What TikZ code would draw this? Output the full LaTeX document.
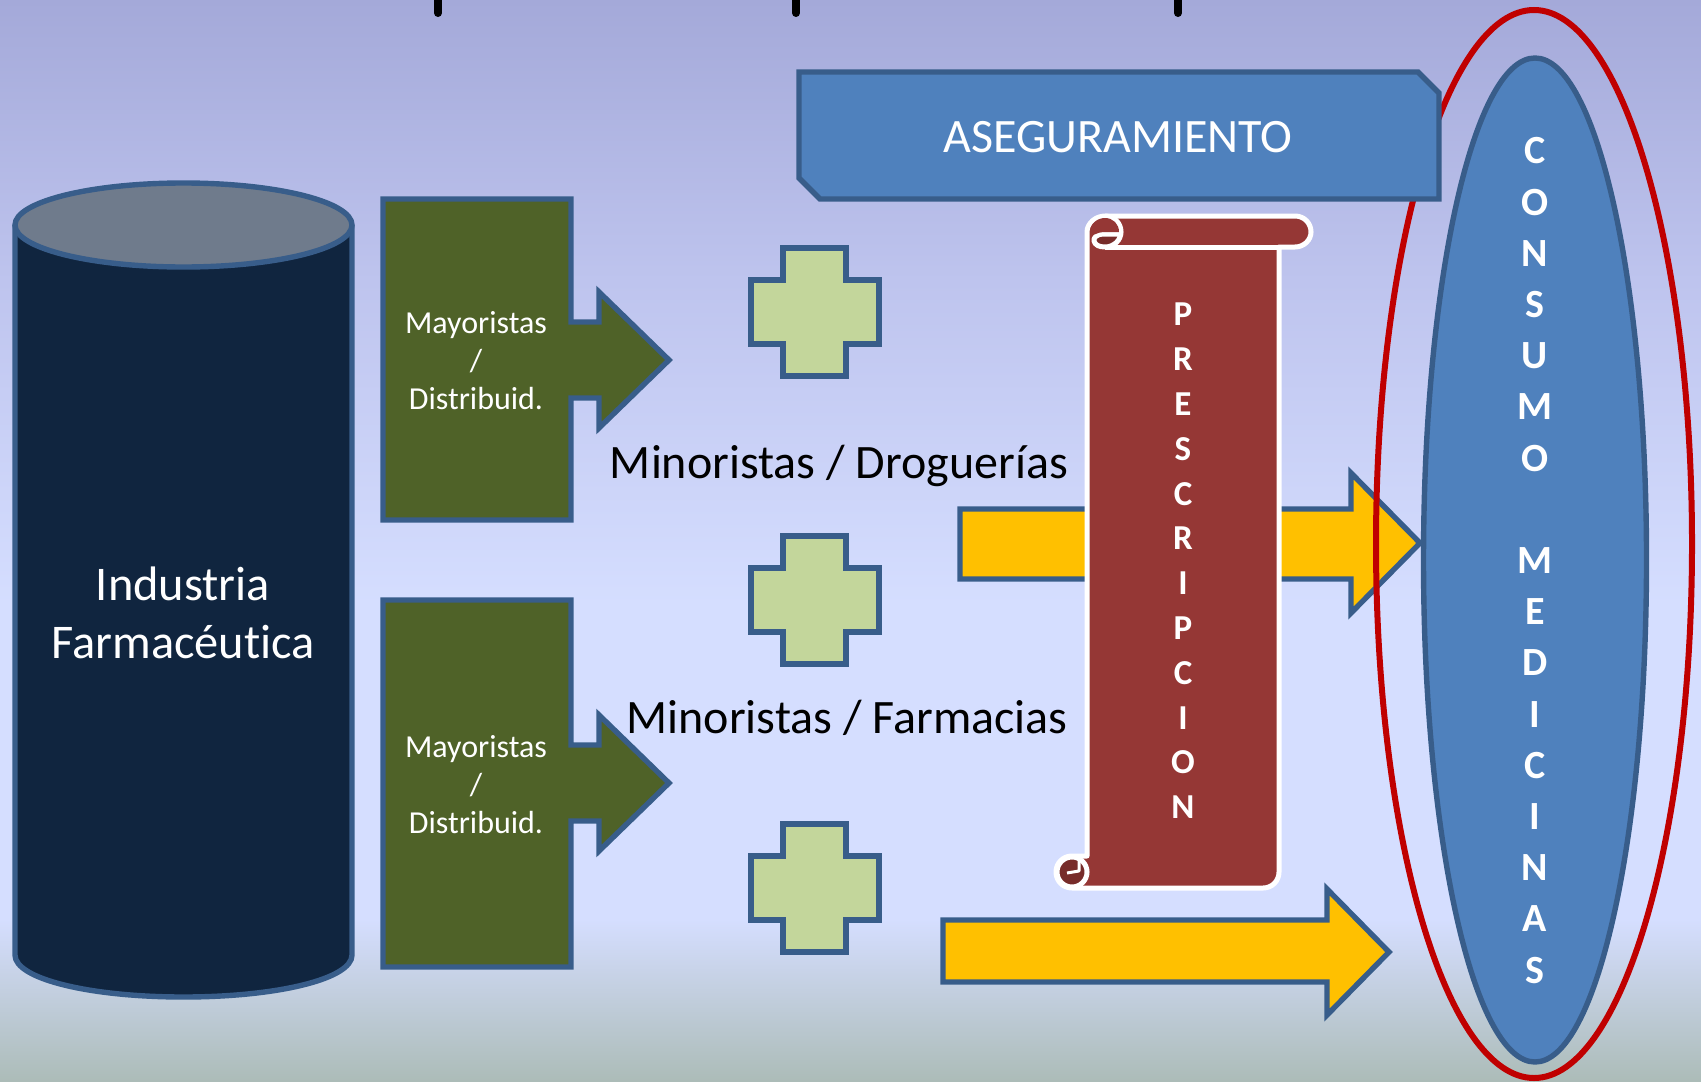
\documentclass[tikz,border=0pt]{standalone}
\usepackage{fontspec}
\setmainfont{Carlito}[Ligatures=NoCommon]
\usepackage{tikz}
\usetikzlibrary{calc}
\definecolor{borde}{HTML}{385D8A}
\definecolor{azul}{HTML}{4F81BD}
\definecolor{noche}{HTML}{10253F}
\definecolor{gris}{HTML}{6F7B8C}
\definecolor{oliva}{HTML}{4F6228}
\definecolor{pasto}{HTML}{C3D69B}
\definecolor{oro}{HTML}{FFC000}
\definecolor{rojo}{HTML}{C00000}
\definecolor{ladrillo}{HTML}{953735}
\definecolor{vino}{HTML}{772C2A}
\definecolor{fondoa}{HTML}{ACBCB8}
\definecolor{fondob}{HTML}{D5DEFF}
\definecolor{fondoc}{HTML}{BEC4EE}
\definecolor{fondod}{HTML}{A4A9D9}
\pgfdeclareverticalshading{fondo}{100bp}{
  color(0bp)=(fondoa);
  color(25bp)=(fondoa);
  color(32.5bp)=(fondob);
  color(47bp)=(fondob);
  color(62bp)=(fondoc);
  color(75bp)=(fondod);
  color(100bp)=(fondod)}
\tikzstyle{forma} = [draw=borde, line width=2.7pt, line join=miter]
\tikzstyle{rollo} = [draw=white, line width=2.5pt, line join=round]
\tikzstyle{claro} = [text=white, align=center]
\tikzstyle{negro} = [text=black, align=center, font={\fontsize{24}{28}\selectfont}]
\tikzstyle{letras} = [text=white, align=center]
\begin{document}
\begin{tikzpicture}[x=0.5pt, y=-0.5pt]
      \useasboundingbox (0,0) rectangle (1701,1081);
      \shade [shading=fondo] (0,0) rectangle (1701,1081);
      % marcas de arriba
      \foreach \x in {438,796,1178}
        \draw [black, line width=4pt, line cap=round] (\x,-5) -- (\x,13);
      % industria
      \draw [forma, fill=noche] (15,225) -- (15,955)
        .. controls (15,979) and (90,997) .. (183.5,997)
        .. controls (277,997) and (352,979) .. (352,955) -- (352,225);
      \draw [forma, fill=gris] (183.5,225) ellipse [x radius=168.5, y radius=42];
      \node [claro, font={\fontsize{24.2}{29}\selectfont}] (industria) at (183,613)
        {Industria\\Farmacéutica};
      % mayoristas
      \foreach \ya/\yb/\ym in {199/520/360, 600/967/783}
        \draw [forma, fill=oliva] (383,\ya) -- (571,\ya) -- (571,\ym-38) -- (599,\ym-38)
          -- (599,\ym-68) -- (669,\ym) -- (599,\ym+68) -- (599,\ym+38) -- (571,\ym+38)
          -- (571,\yb) -- (383,\yb) -- cycle;
      \node [claro, font={\fontsize{16}{19}\selectfont}] (mayorista1) at (476,360.5)
        {Mayoristas\\/\\Distribuid.};
      \node [claro, font={\fontsize{16}{19}\selectfont}] (mayorista2) at (476,784.5)
        {Mayoristas\\/\\Distribuid.};
      % cruces
      \foreach \y in {312,600,888}
        \draw [forma, fill=pasto] (783,\y-64) -- (846,\y-64) -- (846,\y-32) -- (879,\y-32)
          -- (879,\y+32) -- (846,\y+32) -- (846,\y+64) -- (783,\y+64) -- (783,\y+32)
          -- (751,\y+32) -- (751,\y-32) -- (783,\y-32) -- cycle;
      \node [negro] (drogueria) at (839,466) {Minoristas / Droguerías};
      \node [negro] (farmacia) at (847,718) {Minoristas / Farmacias};
      % flechas
      \draw [forma, fill=oro] (960,509) -- (1351,509) -- (1351,473) -- (1420,543)
        -- (1351,613) -- (1351,579) -- (960,579) -- cycle;
      \draw [forma, fill=oro] (943,920) -- (1327,920) -- (1327,889) -- (1389,952)
        -- (1327,1015) -- (1327,982) -- (943,982) -- cycle;
      % receta
      \draw [rollo, fill=ladrillo] (1105,216) -- (1295,216)
        .. controls (1304,216) and (1311,223) .. (1311,232)
        .. controls (1311,240) and (1304,247) .. (1295,247) -- (1279,247) -- (1279,872)
        .. controls (1279,881) and (1272,888) .. (1263,888) -- (1072,888)
        .. controls (1063,888) and (1056,881) .. (1056,872)
        .. controls (1056,863) and (1063,856) .. (1072,856) -- (1087,856) -- (1087,232)
        .. controls (1087,223) and (1096,216) .. (1105,216) -- cycle;
      \draw [rollo] (1105,247) -- (1279,247);
      \draw [rollo, fill=vino] (1118,234) -- (1103,234)
        .. controls (1097,234) and (1093,238) .. (1094,241)
        .. controls (1095,245) and (1099,247) .. (1105,247)
        .. controls (1114,247) and (1121,240) .. (1121,232)
        .. controls (1121,223) and (1114,216) .. (1105,216);
      \fill [ladrillo] (1105,218) .. controls (1113,218) and (1119,224) .. (1119,232) -- (1103,232)
        .. controls (1097,232) and (1092,238) .. (1090,232) .. controls (1090,224) and (1097,218) .. (1105,218);
      \draw [rollo, fill=vino] (1072,872) circle [radius=15];
      \draw [white, line width=1.5pt, line join=round] (1067,873) -- (1079,871) -- (1079,858);
      \node [letras, font={\bfseries\fontsize{17.5}{22.4}\selectfont}] (receta) at (1183,561)
        {P\\R\\E\\S\\C\\R\\I\\P\\C\\I\\O\\N};
      % consumo
      \draw [rojo, line width=3pt] (1534,544) ellipse [x radius=158, y radius=534];
      \draw [forma, fill=azul] (1535,560) ellipse [x radius=111.5, y radius=502];
      \node [letras, font={\bfseries\fontsize{20}{25.6}\selectfont}] (consumo) at (1535,560.5)
        {C\\O\\N\\S\\U\\M\\O\\ \\M\\E\\D\\I\\C\\I\\N\\A\\S};
      % aseguramiento
      \draw [forma, fill=azul] (799,72) -- (1418,72) -- (1439,93) -- (1439,199)
        -- (820,199) -- (799,178) -- cycle;
      \node [claro, font={\fontsize{24}{28}\selectfont}] (seguro) at (1118,137) {ASEGURAMIENTO};
    \end{tikzpicture}
\end{document}
